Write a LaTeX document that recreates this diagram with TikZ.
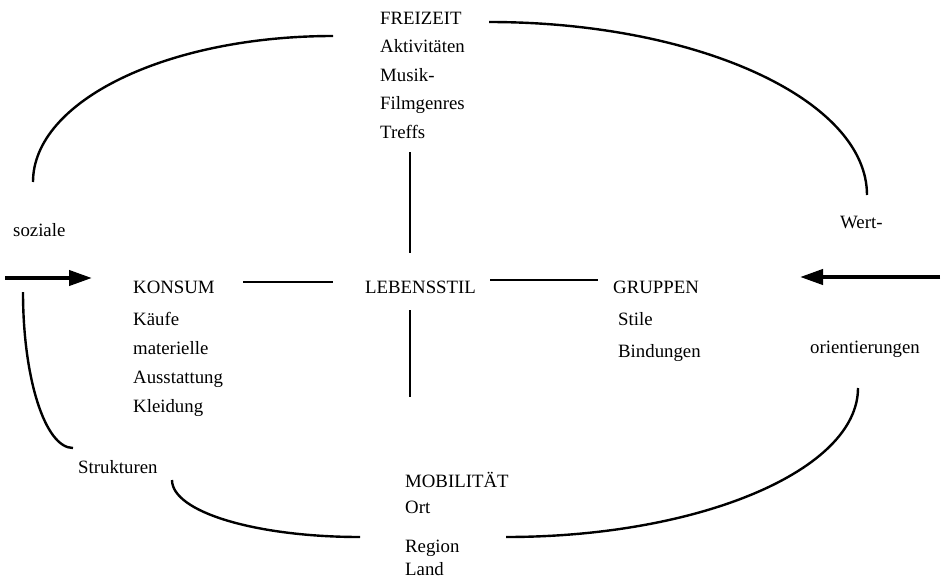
\documentclass[tikz,border=0pt]{standalone}
\usepackage{fontspec}
\setmainfont{Liberation Serif}
\usetikzlibrary{arrows.meta}
\begin{document}
\begin{tikzpicture}[x=1pt,y=-1pt,
  lbl/.style={anchor=base west, inner sep=0pt, font=\fontsize{18.8}{22}\selectfont},
  frame/.style={line width=2.4pt},
  link/.style={line width=2.3pt},
  bigarrow/.style={line width=4pt, -{Triangle[length=23pt,width=15pt]}}]
\useasboundingbox (0,0) rectangle (946,579);
% texts
\node[lbl] (freizeit) at (380,24) {FREIZEIT};
\node[lbl] (aktiv) at (380,52) {Aktivitäten};
\node[lbl] (musik) at (380,81) {Musik-};
\node[lbl] (film) at (380,109) {Filmgenres};
\node[lbl] (treffs) at (380,138) {Treffs};
\node[lbl] (soziale) at (13,236) {soziale};
\node[lbl] (wert) at (840,228) {Wert-};
\node[lbl] (konsum) at (133,293) {KONSUM};
\node[lbl] (kaeufe) at (133,325) {Käufe};
\node[lbl] (mat) at (133,354) {materielle};
\node[lbl] (aus) at (133,383) {Ausstattung};
\node[lbl] (kleid) at (133,412) {Kleidung};
\node[lbl] (leben) at (365,293) {LEBENSSTIL};
\node[lbl] (gruppen) at (613,293) {GRUPPEN};
\node[lbl] (stile) at (618,325) {Stile};
\node[lbl] (bind) at (618,357) {Bindungen};
\node[lbl] (orient) at (810,353) {orientierungen};
\node[lbl] (strukt) at (78,473) {Strukturen};
\node[lbl] (mobil) at (405,487) {MOBILITÄT};
\node[lbl] (ort) at (405,513) {Ort};
\node[lbl] (region) at (405,552) {Region};
\node[lbl] (land) at (405,575) {Land};
% connectors
\coordinate (vx) at (410,0);
\draw[link] ([yshift=-14pt]treffs.base -| vx) -- ([yshift=40pt]leben.base -| vx);
\draw[link] ([yshift=-17pt]leben.base -| vx) -- ([yshift=90pt]mobil.base -| vx);
\draw[link] (243,282) coordinate (kl1) -- (333,282) coordinate (kl2);
\draw[link] (490,280) coordinate (lg1) -- (598,280) coordinate (lg2);
% arrows
\coordinate (la1) at (5,278);
\coordinate (la2) at (92,278);
\coordinate (ra1) at (940,277);
\coordinate (ra2) at (800,277);
\draw[bigarrow] (la1) -- (la2);
\draw[bigarrow] (ra1) -- (ra2);
% frame arcs
\draw[frame] (33,182) .. controls (33,101) and (167,36) .. (333,36);
\draw[frame] (489,22) .. controls (698,22) and (867,100) .. (867,195);
\draw[frame] (23,292) .. controls (23,378) and (45,448) .. (73,448);
\draw[frame] (172,480) .. controls (172,512) and (256,537) .. (360,537);
\draw[frame] (506,537) .. controls (700,537) and (858,470) .. (858,388);
\end{tikzpicture}
\end{document}
